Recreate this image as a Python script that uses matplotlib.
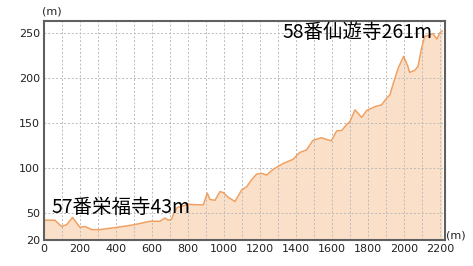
import numpy as np
import matplotlib
matplotlib.use("Agg")
import matplotlib.pyplot as plt
from matplotlib.ticker import MultipleLocator

# elevation profile, 57番栄福寺 -> 58番仙遊寺
dist = [0, 60, 98, 126, 159, 200, 228, 265, 311, 404, 495, 589, 644, 672, 690, 709,
        722, 740, 802, 867, 885, 907, 922, 950, 978, 996, 1024, 1043, 1061, 1098,
        1126, 1154, 1181, 1209, 1237, 1274, 1330, 1385, 1420, 1459, 1494, 1541,
        1596, 1626, 1654, 1681, 1700, 1728, 1765, 1793, 1839, 1876, 1904, 1922,
        1941, 1968, 1987, 1998, 2022, 2031, 2059, 2078, 2096, 2115, 2143, 2160,
        2183, 2200, 2212]
elev = [42, 42, 35, 37, 45, 34, 35, 31.5, 31.5, 34, 36.7, 40.8, 40.8, 44.4, 42, 43,
        50, 56, 59.6, 59, 59, 72, 65, 64, 73.7, 72.6, 67.4, 65, 62.6, 75.5,
        79, 87, 93, 94, 92, 98.5, 105, 109.6, 117, 120, 130.5, 133.5,
        130, 141, 141.5, 148, 151.5, 164.4, 156, 163.7, 168, 170, 177.4, 181,
        194, 210.7, 219, 223.7, 212.6, 206, 208, 212.6, 231, 246, 247, 249,
        243, 250, 252]

yticks = [20, 50, 100, 150, 200, 250]
start_label = "57番栄福寺43m"
end_label = "58番仙遊寺261m"

W, H = 473, 266
fig = plt.figure(figsize=(W / 100, H / 100), dpi=100)
ax = fig.add_axes([44 / W, (H - 240) / H, (445 - 44) / W, (240 - 21) / H])

ax.fill_between(dist, elev, 20, color="#fbe0c9", lw=0)
ax.plot(dist, elev, color="#f0a060", lw=1.1)

ax.set_xlim(0, 2228)
ax.set_ylim(20, 263)
ax.xaxis.set_major_locator(MultipleLocator(200))
ax.xaxis.set_minor_locator(MultipleLocator(100))
ax.set_yticks(yticks)
ax.grid(True, which="both", axis="x", color="#bbbbbb", ls=(0, (2, 2)), lw=0.7)
ax.grid(True, axis="y", color="#bbbbbb", ls=(0, (2, 2)), lw=0.7)
ax.tick_params(which="both", length=0, labelsize=8, colors="#222222", pad=3)

for s in ax.spines.values():
    s.set_color("#606060")
    s.set_linewidth(1.5)

fig.text(42 / W, (H - 12) / H, "(m)", fontsize=8, va="center", ha="left", color="#222222")
fig.text(446 / W, (H - 235) / H, "(m)", fontsize=8, va="center", ha="left", color="#222222")

cjk = ["Noto Sans CJK JP", "DejaVu Sans"]
fig.text(51 / W, (H - 207) / H, start_label, family=cjk, fontsize=14, va="center", ha="left")
fig.text(433 / W, (H - 32) / H, end_label, family=cjk, fontsize=14, va="center", ha="right")

fig.savefig("out.png", dpi=100)
